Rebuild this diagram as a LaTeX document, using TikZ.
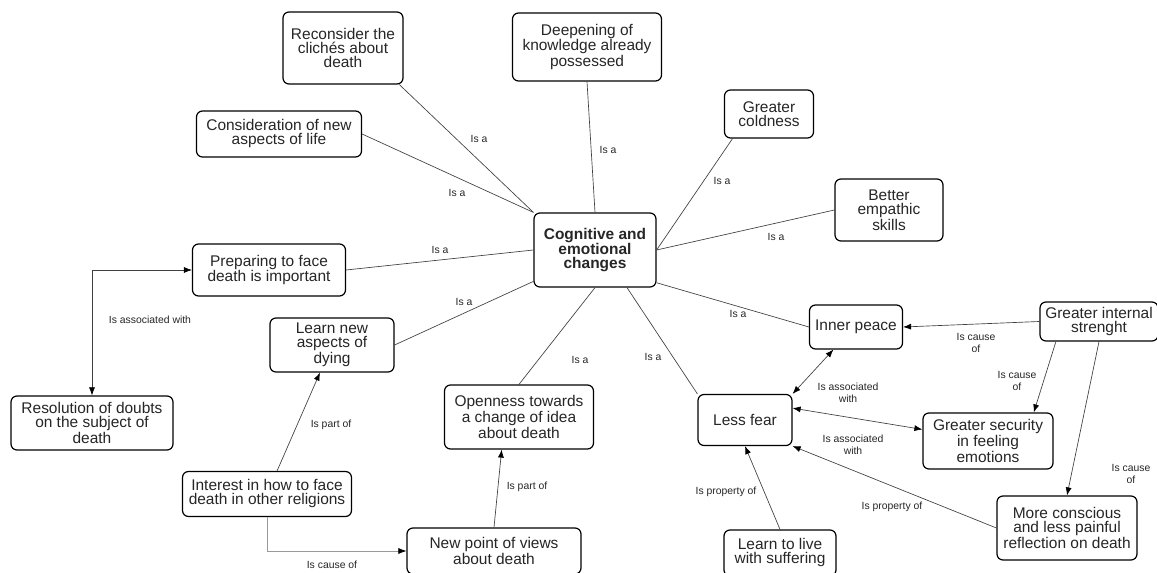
\documentclass[tikz,border=0pt]{standalone}
\usepackage{fontspec}
\setmainfont{Liberation Sans}
\usetikzlibrary{arrows.meta}
\tikzset{
  concept/.style 2 args={draw=black,line width=0.9pt,rounded corners=4.5pt,
    align=center,inner sep=0pt,text=black!85,
    font=\fontsize{11.6}{10.5}\selectfont,
    minimum width=#1*0.75pt,minimum height=#2*0.75pt},
  lbl/.style={font=\fontsize{7.8}{9.4}\selectfont,align=center,
    inner sep=0pt,text=black!85},
  link/.style={draw=black!75,line width=0.5pt},
}
\begin{document}
\begin{tikzpicture}[x=0.75pt,y=-0.75pt,
  >={Latex[length=6pt,width=4.5pt,color=black]}]
  \fill[white] (0,0) rectangle (1157,573);
  \useasboundingbox (0,0) rectangle (1157,573);
  % concepts
  \node[concept={122}{74},font=\bfseries\fontsize{11.6}{10.5}\selectfont]
    (cog) at (595,250) {Cognitive and\\emotional\\changes};
  \node[concept={120}{72}] (recon) at (343,48) {Reconsider the\\clichés about\\death};
  \node[concept={149}{68}] (deep) at (587,47) {Deepening of\\knowledge already\\possessed};
  \node[concept={89}{48}] (cold) at (769,114) {Greater\\coldness};
  \node[concept={108}{62}] (empat) at (889,210) {Better\\empathic\\skills};
  \node[concept={165}{46}] (consid) at (279,134) {Consideration of new\\aspects of life};
  \node[concept={153}{52}] (prep) at (269,270) {Preparing to face\\death is important};
  \node[concept={124}{54}] (learnnew) at (332,345) {Learn new\\aspects of\\dying};
  \node[concept={162}{54}] (resol) at (92,423) {Resolution of doubts\\on the subject of\\death};
  \node[concept={149}{64}] (open) at (519,417) {Openness towards\\a change of idea\\about death};
  \node[concept={94}{51}] (fear) at (745,420) {Less fear};
  \node[concept={93}{44}] (peace) at (856,327) {Inner peace};
  \node[concept={118}{39}] (strength) at (1099,321.5) {Greater internal\\strenght};
  \node[concept={130}{56}] (secur) at (988,441) {Greater security\\in feeling\\emotions};
  \node[concept={140}{64}] (consc) at (1067,528) {More conscious\\and less painful\\reflection on death};
  \node[concept={169}{45}] (interest) at (267,494) {Interest in how to face\\death in other religions};
  \node[concept={174}{46}] (newpov) at (494,551) {New point of views\\about death};
  \node[concept={112}{46}] (suffer) at (780,553) {Learn to live\\with suffering};
  % links to the central concept
  \draw[link] (recon.-33) -- (cog.north west);
  \draw[link] (consid.east) -- (cog.north west);
  \draw[link] (deep.south) -- (cog.north);
  \draw[link] (cold.214) -- (cog.east);
  \draw[link] (empat.west) -- (cog.east);
  \draw[link] (prep.east) -- (cog.west);
  \draw[link] (learnnew.east) -- (cog.207);
  \draw[link] (open.north) -- (cog.south);
  \draw[link] (fear.north west) -- ([xshift=24pt]cog.south);
  \draw[link] (peace.west) -- (cog.-28);
  % other links
  \draw[link,<->] (resol.north) |- (prep.west);
  \draw[link,->] (interest) -- (learnnew);
  \draw[link,->,draw=black!40] (interest.south) |- (newpov.west);
  \draw[link,->] (newpov.north) -- ([xshift=-13pt]open.south);
  \draw[link,->] (suffer.north) -- (fear.south);
  \draw[link,->] (consc.west) -- (fear.south east);
  \draw[link,<->] (fear.14) -- (secur.170);
  \draw[link,<->] (fear.north east) -- (peace.225);
  \draw[link,->] (strength.west) -- (peace.east);
  \draw[link,->] (strength.205) -- (secur.32);
  \draw[link,->] (strength.south) -- (consc.north);
  % link labels
  \node[lbl] (l1) at (479,139) {Is a};
  \node[lbl] (l2) at (457,193) {Is a};
  \node[lbl] (l3) at (608,150) {Is a};
  \node[lbl] (l4) at (722,181) {Is a};
  \node[lbl] (l5) at (776,237) {Is a};
  \node[lbl] (l6) at (440,250) {Is a};
  \node[lbl] (l7) at (464,302) {Is a};
  \node[lbl] (l8) at (580,360) {Is a};
  \node[lbl] (l9) at (653,357) {Is a};
  \node[lbl] (l10) at (738,314) {Is a};
  \node[lbl] (l11) at (150,320) {Is associated with};
  \node[lbl] (l12) at (331,425) {Is part of};
  \node[lbl] (l13) at (332,565) {Is cause of};
  \node[lbl] (l14) at (527,487) {Is part of};
  \node[lbl] (l15) at (726,492) {Is property of};
  \node[lbl] (l16) at (892,507) {Is property of};
  \node[lbl] (l17) at (848,393) {Is associated\\with};
  \node[lbl] (l18) at (853,445) {Is associated\\with};
  \node[lbl] (l19) at (976,343) {Is cause\\of};
  \node[lbl] (l20) at (1017,381) {Is cause\\of};
  \node[lbl] (l21) at (1131,474) {Is cause\\of};
\end{tikzpicture}
\end{document}
